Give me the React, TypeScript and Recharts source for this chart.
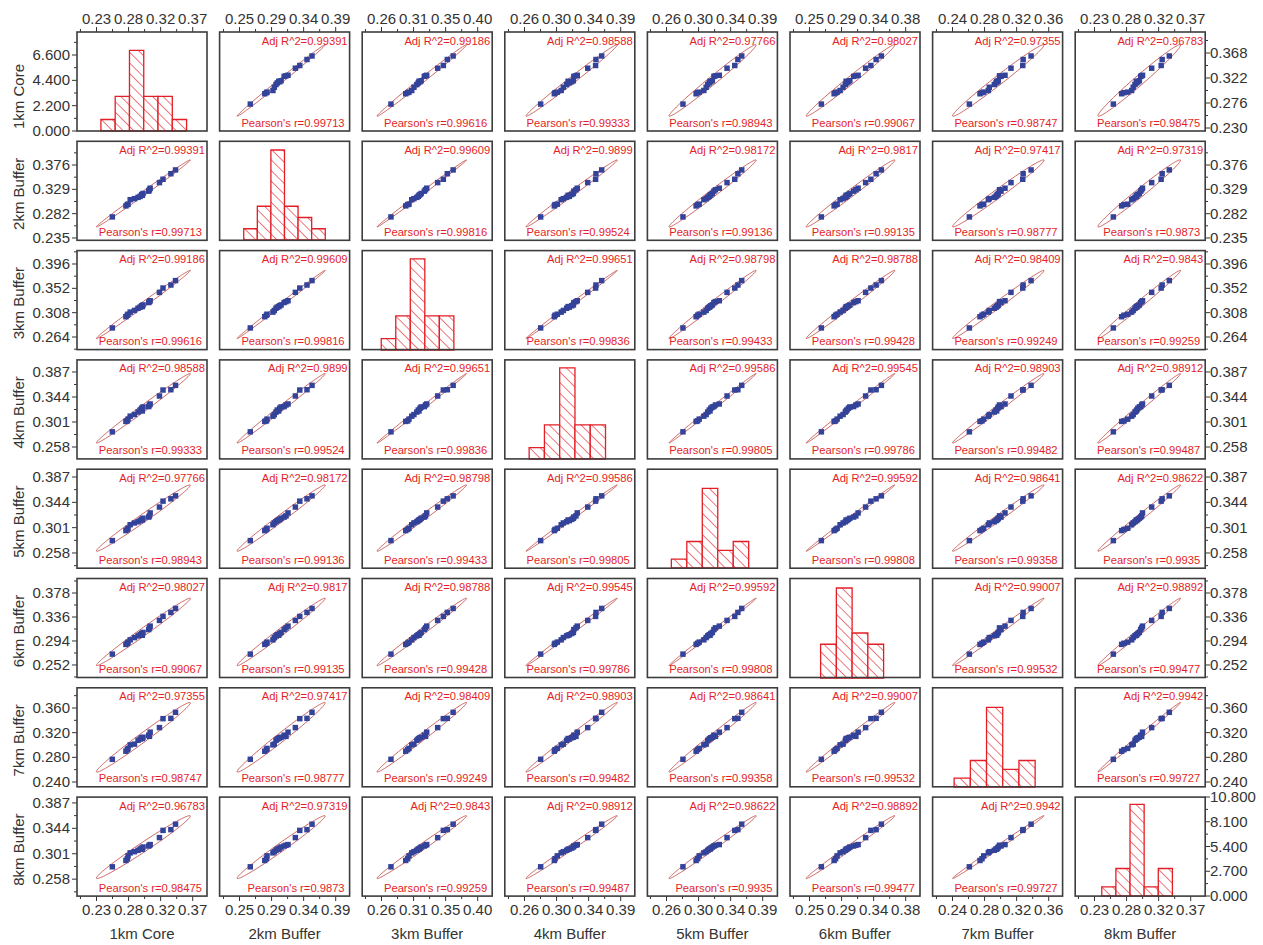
import React from 'react';
import { ComposedChart, Scatter, Line, ReferenceArea, XAxis, YAxis, ZAxis } from 'recharts';

const variableNames = ['1km Core', '2km Buffer', '3km Buffer', '4km Buffer', '5km Buffer', '6km Buffer', '7km Buffer', '8km Buffer'];

// 18 sites, one value per buffer size
const core1km = [0.274, 0.293, 0.295, 0.296, 0.299, 0.305, 0.31, 0.313, 0.315, 0.317, 0.316, 0.325, 0.326, 0.327, 0.34, 0.345, 0.356, 0.3625];
const buffer2km = [0.2757, 0.297, 0.2995, 0.3003, 0.309, 0.311, 0.3135, 0.3154, 0.3189, 0.321, 0.3175, 0.3255, 0.3282, 0.3312, 0.342, 0.3485, 0.3591, 0.3665];
const buffer3km = [0.2804, 0.3007, 0.3034, 0.3052, 0.309, 0.312, 0.316, 0.318, 0.3204, 0.322, 0.319, 0.3263, 0.328, 0.3296, 0.3447, 0.3525, 0.358, 0.366];
const buffer4km = [0.2841, 0.302, 0.3029, 0.3059, 0.311, 0.3138, 0.3181, 0.3216, 0.3247, 0.3269, 0.32, 0.3275, 0.3303, 0.332, 0.3457, 0.356, 0.3565, 0.364];
const buffer5km = [0.279, 0.296, 0.298, 0.3, 0.306, 0.309, 0.311, 0.313, 0.315, 0.317, 0.314, 0.319, 0.321, 0.326, 0.336, 0.346, 0.35, 0.355];
const buffer6km = [0.271, 0.288, 0.29, 0.292, 0.296, 0.3, 0.303, 0.305, 0.307, 0.309, 0.304, 0.314, 0.317, 0.32, 0.33, 0.337, 0.344, 0.351];
const buffer7km = [0.2768, 0.2899, 0.2924, 0.2945, 0.3002, 0.3014, 0.3076, 0.3097, 0.3117, 0.3126, 0.3105, 0.3159, 0.314, 0.3208, 0.3282, 0.3427, 0.3432, 0.353];
const buffer8km = [0.2789, 0.2896, 0.2926, 0.2974, 0.3025, 0.3045, 0.3068, 0.309, 0.3105, 0.3124, 0.3085, 0.3141, 0.3154, 0.3165, 0.3283, 0.3405, 0.3418, 0.351];
const variables = [core1km, buffer2km, buffer3km, buffer4km, buffer5km, buffer6km, buffer7km, buffer8km];

// histogram bins on the diagonal
const histEdges = [
  [0.258, 0.278, 0.298, 0.318, 0.338, 0.358, 0.378],
  [0.266, 0.286, 0.306, 0.326, 0.346, 0.366, 0.386],
  [0.267, 0.287, 0.307, 0.327, 0.347, 0.367],
  [0.269, 0.289, 0.309, 0.329, 0.349, 0.369],
  [0.264, 0.284, 0.304, 0.324, 0.344, 0.364],
  [0.27, 0.291, 0.312, 0.333, 0.354],
  [0.258, 0.278, 0.298, 0.318, 0.338, 0.358],
  [0.264, 0.2822, 0.3004, 0.3186, 0.3368, 0.355],
];
const histCounts = [
  [1, 3, 7, 3, 3, 1],
  [1, 3, 8, 3, 2, 1],
  [1, 3, 8, 3, 3],
  [1, 3, 8, 3, 3],
  [1, 3, 9, 2, 3],
  [3, 8, 4, 3],
  [1, 3, 9, 2, 3],
  [1, 3, 10, 1, 3],
];
const histMax = [8.6, 8.8, 8.7, 8.7, 11.2, 8.8, 11.2, 10.8];
const countTicksFirst = [0, 2.2, 4.4, 6.6];
const countTicksLast = [0, 2.7, 5.4, 8.1, 10.8];

// printed tick labels
const rowTicks = [
  [0.23, 0.276, 0.322, 0.368],
  [0.235, 0.282, 0.329, 0.376],
  [0.264, 0.308, 0.352, 0.396],
  [0.258, 0.301, 0.344, 0.387],
  [0.258, 0.301, 0.344, 0.387],
  [0.252, 0.294, 0.336, 0.378],
  [0.24, 0.28, 0.32, 0.36],
  [0.258, 0.301, 0.344, 0.387],
];
const colTicks = [
  [0.23, 0.276, 0.322, 0.368],
  [0.247, 0.294, 0.341, 0.388],
  [0.264, 0.308, 0.352, 0.396],
  [0.258, 0.301, 0.344, 0.387],
  [0.258, 0.301, 0.344, 0.387],
  [0.252, 0.294, 0.336, 0.378],
  [0.24, 0.28, 0.32, 0.36],
  [0.23, 0.276, 0.322, 0.368],
];
const valueDomains = [
  [0.2245, 0.4066],
  [0.2311, 0.4224],
  [0.2405, 0.4195],
  [0.2374, 0.4076],
  [0.2325, 0.4006],
  [0.2292, 0.4025],
  [0.2319, 0.3924],
  [0.2295, 0.397],
];

// pair statistics, upper triangle (row i against columns i+1..8)
const pearsonR = [
  ['0.99713', '0.99616', '0.99333', '0.98943', '0.99067', '0.98747', '0.98475'],
  ['0.99816', '0.99524', '0.99136', '0.99135', '0.98777', '0.9873'],
  ['0.99836', '0.99433', '0.99428', '0.99249', '0.99259'],
  ['0.99805', '0.99786', '0.99482', '0.99487'],
  ['0.99808', '0.99358', '0.9935'],
  ['0.99532', '0.99477'],
  ['0.99727'],
];
const adjR2 = [
  ['0.99391', '0.99186', '0.98588', '0.97766', '0.98027', '0.97355', '0.96783'],
  ['0.99609', '0.9899', '0.98172', '0.9817', '0.97417', '0.97319'],
  ['0.99651', '0.98798', '0.98788', '0.98409', '0.9843'],
  ['0.99586', '0.99545', '0.98903', '0.98912'],
  ['0.99592', '0.98641', '0.98622'],
  ['0.99007', '0.98892'],
  ['0.9942'],
];

const FONT = '"Liberation Sans", Arial, sans-serif';
const TEXT = '#333';
const RED = '#e41e26';
const PW = 130;
const PH = 99;
const X0 = 77;
const Y0 = 32;
const SX = 142.6;
const SY = 109.3;
const ML = 66;
const MT = 34;
const AXIS_W = 60;
const AXIS_H = 30;

const pairStat = (table: string[][], i: number, j: number) => {
  const a = Math.min(i, j);
  const b = Math.max(i, j);
  return table[a][b - a - 1];
};

const mean = (a: number[]) => a.reduce((s, v) => s + v, 0) / a.length;
const sd = (a: number[]) => {
  const m = mean(a);
  return Math.sqrt(a.reduce((s, v) => s + (v - m) ** 2, 0) / (a.length - 1));
};

// 95% prediction ellipse, F(0.95; 2, n-2) = 3.634 for n = 18
const N = core1km.length;
const ELLIPSE_C = Math.sqrt(((2 * (N - 1) * (N + 1)) / (N * (N - 2))) * 3.634);

function ellipse(xs: number[], ys: number[], r: number) {
  const mx = mean(xs);
  const my = mean(ys);
  const sx = sd(xs);
  const sy = sd(ys);
  const pts = [];
  for (let k = 0; k <= 160; k++) {
    const t = (k / 160) * 2 * Math.PI;
    pts.push({
      x: mx + ELLIPSE_C * sx * Math.cos(t),
      y: my + ELLIPSE_C * sy * (r * Math.cos(t) + Math.sqrt(1 - r * r) * Math.sin(t)),
    });
  }
  return pts;
}

// majors plus half-step minors that fall inside the domain
function withMinor(majors: number[], domain: number[]) {
  const half = (majors[1] - majors[0]) / 2;
  const out: number[] = [];
  for (let k = -4; k <= 2 * (majors.length - 1) + 4; k++) {
    const v = majors[0] + k * half;
    if (v >= domain[0] - 1e-9 && v <= domain[1] + 1e-9) out.push(Number(v.toFixed(6)));
  }
  return out;
}

// the printed x-axis sits at its own placement inside each column
function labelDomain(ticks: number[]) {
  const full = (ticks[ticks.length - 1] - ticks[0]) / 0.74;
  const lo = ticks[0] - 0.15 * full;
  return [lo, lo + full];
}

function tickRenderer(side: string, majors: number[], digits: number) {
  return (props: any) => {
    const { x, y, payload } = props;
    const v = payload.value;
    const major = majors.some((m) => Math.abs(m - v) < 1e-6);
    const len = major ? 5 : 3;
    const label = major ? v.toFixed(digits) : '';
    const textProps = { fill: TEXT, fontSize: 15, fontFamily: FONT };
    if (side === 'left') {
      return (
        <g>
          <line x1={x - len} y1={y} x2={x} y2={y} stroke={TEXT} strokeWidth={1} />
          <text x={x - 7} y={y + 5} textAnchor="end" {...textProps}>{label}</text>
        </g>
      );
    }
    if (side === 'right') {
      return (
        <g>
          <line x1={x} y1={y} x2={x + len} y2={y} stroke={TEXT} strokeWidth={1} />
          <text x={x + 5} y={y + 5} textAnchor="start" {...textProps}>{label}</text>
        </g>
      );
    }
    if (side === 'top') {
      return (
        <g>
          <line x1={x} y1={y - len} x2={x} y2={y} stroke={TEXT} strokeWidth={1} />
          <text x={x} y={y - 8} textAnchor="middle" {...textProps}>{label}</text>
        </g>
      );
    }
    return (
      <g>
        <line x1={x} y1={y} x2={x} y2={y + len} stroke={TEXT} strokeWidth={1} />
        <text x={x} y={y + 19} textAnchor="middle" {...textProps}>{label}</text>
      </g>
    );
  };
}

function Panel({ row, col }: { row: number; col: number }) {
  const diag = row === col;
  const px = X0 + col * SX;
  const py = Y0 + row * SY;
  const showTop = row === 0;
  const showBottom = row === 7;
  const showLeft = col === 0;
  const showRight = col === 7;
  const xDom = valueDomains[col];
  const yDom = diag ? [0, histMax[col]] : valueDomains[row];
  const yMajors = diag ? (row === 0 ? countTicksFirst : countTicksLast) : rowTicks[row];
  const xLabDom = labelDomain(colTicks[col]);
  const labAxisId = showTop ? 'top' : 'bottom';

  const margin = {
    top: MT - (showTop ? AXIS_H : 0),
    bottom: MT - (showBottom ? AXIS_H : 0),
    left: ML - (showLeft ? AXIS_W : 0),
    right: ML - (showRight ? AXIS_W : 0),
  };

  const points = variables[col].map((v, k) => ({ x: v, y: variables[row][k] }));
  const ell = diag ? [] : ellipse(variables[col], variables[row], parseFloat(pairStat(pearsonR, row, col)));
  // invisible anchor so the printed x-axis gets laid out
  const anchor = colTicks[col].map((t) => ({ x: t, y: yDom[0] }));

  const yVisible = showLeft || showRight;
  const ySide = showRight ? 'right' : 'left';

  return (
    <div style={{ position: 'absolute', left: px - ML, top: py - MT }}>
      <ComposedChart width={PW + 2 * ML} height={PH + 2 * MT} margin={margin}>
        <XAxis xAxisId="v" type="number" dataKey="x" domain={xDom} allowDataOverflow hide />
        {(showTop || showBottom) && (
          <XAxis
            xAxisId={labAxisId}
            orientation={showTop ? 'top' : 'bottom'}
            type="number"
            dataKey="x"
            domain={xLabDom}
            allowDataOverflow
            height={AXIS_H}
            ticks={withMinor(colTicks[col], xLabDom)}
            interval={0}
            axisLine={false}
            tickLine={false}
            tickSize={0}
            tickMargin={0}
            tick={tickRenderer(showTop ? 'top' : 'bottom', colTicks[col], 2)}
          />
        )}
        <YAxis
          yAxisId="v"
          type="number"
          domain={yDom}
          allowDataOverflow
          hide={!yVisible}
          orientation={ySide}
          width={AXIS_W}
          ticks={withMinor(yMajors, yDom)}
          interval={0}
          axisLine={false}
          tickLine={false}
          tickSize={0}
          tickMargin={0}
          tick={tickRenderer(ySide, yMajors, 3)}
        />
        <ZAxis range={[30, 30]} />
        {(showTop || showBottom) && (
          <Line
            xAxisId={labAxisId}
            yAxisId="v"
            data={anchor}
            dataKey="y"
            stroke="none"
            dot={false}
            isAnimationActive={false}
          />
        )}
        {diag &&
          histCounts[col].map((count, k) => (
            <ReferenceArea
              key={k}
              xAxisId="v"
              yAxisId="v"
              x1={histEdges[col][k]}
              x2={histEdges[col][k + 1]}
              y1={0}
              y2={count}
              fill="url(#hatch)"
              fillOpacity={1}
              stroke={RED}
              strokeWidth={1.3}
              ifOverflow="visible"
            />
          ))}
        {!diag && (
          <Line
            xAxisId="v"
            yAxisId="v"
            data={ell}
            dataKey="y"
            type="linear"
            dot={false}
            stroke="#bd3b37"
            strokeWidth={0.8}
            isAnimationActive={false}
          />
        )}
        {!diag && (
          <Scatter
            xAxisId="v"
            yAxisId="v"
            data={points}
            dataKey="y"
            shape="square"
            fill="#33439a"
            isAnimationActive={false}
          />
        )}
      </ComposedChart>
    </div>
  );
}

export default function App() {
  const cells = [];
  for (let r = 0; r < 8; r++) for (let c = 0; c < 8; c++) cells.push({ r, c });

  return (
    <div style={{ position: 'absolute', left: 0, top: 0, width: 1263, height: 945, background: '#fff', fontFamily: FONT }}>
      <svg width={10} height={10} style={{ position: 'absolute', left: 0, top: 0 }}>
        <defs>
          <pattern id="hatch" patternUnits="userSpaceOnUse" width={7.5} height={7.5} patternTransform="rotate(-45)">
            <rect width={7.5} height={7.5} fill="#fff" />
            <line x1={0} y1={0} x2={0} y2={7.5} stroke={RED} strokeWidth={1.2} />
          </pattern>
        </defs>
      </svg>
      {cells.map(({ r, c }) => (
        <Panel key={`${r}-${c}`} row={r} col={c} />
      ))}
      <svg width={1263} height={945} style={{ position: 'absolute', left: 0, top: 0, pointerEvents: 'none' }}>
        {cells.map(({ r, c }) => {
          const px = X0 + c * SX;
          const py = Y0 + r * SY;
          return (
            <g key={`f-${r}-${c}`}>
              <rect x={px} y={py} width={PW} height={PH} fill="none" stroke="#3d3d3d" strokeWidth={1.6} />
              {r !== c && (
                <>
                  <text x={px + PW - 2} y={py + 12.5} textAnchor="end" fontSize={11.2} fill={RED} fontFamily={FONT}>
                    {`Adj R^2=${pairStat(adjR2, r, c)}`}
                  </text>
                  <text x={px + PW - 5} y={py + PH - 4.5} textAnchor="end" fontSize={11.2} fill={RED} fontFamily={FONT}>
                    {`Pearson's r=${pairStat(pearsonR, r, c)}`}
                  </text>
                </>
              )}
            </g>
          );
        })}
        {variableNames.map((name, i) => {
          const cy = Y0 + i * SY + PH / 2 + (i === 0 ? 15 : 3);
          return (
            <text key={`yl-${i}`} x={24} y={cy} transform={`rotate(-90 24 ${cy})`} textAnchor="middle" fontSize={15} fill={TEXT} fontFamily={FONT}>
              {name}
            </text>
          );
        })}
        {variableNames.map((name, i) => (
          <text key={`xl-${i}`} x={X0 + i * SX + PW / 2} y={939} textAnchor="middle" fontSize={15} fill={TEXT} fontFamily={FONT}>
            {name}
          </text>
        ))}
      </svg>
    </div>
  );
}
